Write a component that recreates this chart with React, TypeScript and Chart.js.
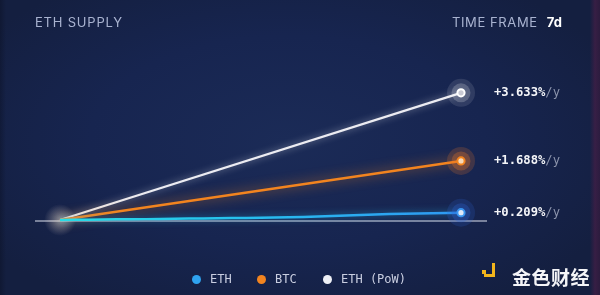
import React, { useEffect, useRef } from "react";
import { Chart, registerables } from "chart.js";

Chart.register(...registerables);

// Supply change, annualised %, sampled over the 7 day window
const ethDays = [0, 0.5, 1, 1.5, 2, 2.5, 3, 3.5, 4, 4.5, 5, 5.5, 6, 6.5, 7];
const ethValues = [0, 0.01, 0.02, 0.025, 0.035, 0.045, 0.055, 0.065, 0.08, 0.1, 0.13, 0.16, 0.18, 0.19, 0.209];
const btcDays = [0, 7];
const btcValues = [0, 1.688];
const powDays = [0, 7];
const powValues = [0, 3.633];

const seriesNames = ["ETH", "BTC", "ETH (PoW)"];
const endLabels = ["+0.209%", "+1.688%", "+3.633%"];

const lineColors = ["#2fa0f2", "#f2841f", "#ececf2"];
const glowColors = ["rgba(40,190,240,0.55)", "rgba(242,132,31,0.8)", "rgba(255,255,255,0.5)"];
const haloOuter = ["rgba(45,100,210,0.2)", "rgba(235,120,40,0.2)", "rgba(255,255,255,0.11)"];
const haloInner = ["rgba(45,100,210,0.3)", "rgba(235,120,40,0.3)", "rgba(255,255,255,0.2)"];
const dotFill = ["#dfe9f8", "#f7d9b8", "#c9cad4"];
const dotRing = ["#3a95f0", "#f2841f", "#ffffff"];
const legendDots = ["#2fa3f0", "#f2841f", "#eef0f6"];

const MONO = "'DejaVu Sans Mono', 'Liberation Mono', monospace";
const SANS = "Inter, Roboto, 'Noto Sans', sans-serif";

const toPoints = (xs: number[], ys: number[]) => xs.map((x, i) => ({ x, y: ys[i] }));

export default function App() {
  const canvasRef = useRef<HTMLCanvasElement | null>(null);

  useEffect(() => {
    document.body.style.margin = "0";
    const canvas = canvasRef.current;
    if (!canvas) return;

    const decorations = {
      id: "supplyDecor",
      beforeDatasetsDraw(chart: any) {
        const { ctx, scales } = chart;
        const y0 = scales.y.getPixelForValue(0);
        const x0 = scales.x.getPixelForValue(0);
        ctx.save();
        // baseline
        ctx.strokeStyle = "rgba(200,206,222,0.75)";
        ctx.lineWidth = 1.3;
        ctx.beginPath();
        ctx.moveTo(35, y0 + 1);
        ctx.lineTo(487, y0 + 1);
        ctx.stroke();
        // origin glow
        const g = ctx.createRadialGradient(x0, y0, 0, x0, y0, 16);
        g.addColorStop(0, "rgba(255,240,225,0.45)");
        g.addColorStop(1, "rgba(255,240,225,0)");
        ctx.fillStyle = g;
        ctx.beginPath();
        ctx.arc(x0, y0, 16, 0, Math.PI * 2);
        ctx.fill();
        ctx.restore();
      },
      beforeDatasetDraw(chart: any, args: any) {
        const ctx = chart.ctx;
        ctx.save();
        ctx.shadowColor = glowColors[args.index];
        ctx.shadowBlur = args.index === 1 ? 12 : 7;
      },
      afterDatasetDraw(chart: any) {
        chart.ctx.restore();
      },
      afterDatasetsDraw(chart: any) {
        const { ctx } = chart;
        chart.data.datasets.forEach((_: any, i: number) => {
          const meta = chart.getDatasetMeta(i);
          const pt = meta.data[meta.data.length - 1];
          const px = pt.x;
          const py = pt.y;
          ctx.save();
          ctx.fillStyle = haloOuter[i];
          ctx.beginPath();
          ctx.arc(px, py, 14, 0, Math.PI * 2);
          ctx.fill();
          ctx.fillStyle = haloInner[i];
          ctx.beginPath();
          ctx.arc(px, py, 9.5, 0, Math.PI * 2);
          ctx.fill();
          ctx.fillStyle = dotFill[i];
          ctx.strokeStyle = dotRing[i];
          ctx.lineWidth = 2;
          ctx.beginPath();
          ctx.arc(px, py, 3.6, 0, Math.PI * 2);
          ctx.fill();
          ctx.stroke();

          ctx.textBaseline = "middle";
          ctx.textAlign = "left";
          ctx.font = `bold 12.2px ${MONO}`;
          ctx.fillStyle = "#f4f5f8";
          const lx = px + 33;
          ctx.fillText(endLabels[i], lx, py);
          const w = ctx.measureText(endLabels[i]).width;
          ctx.font = `12.2px ${MONO}`;
          ctx.fillStyle = "#8c94ac";
          ctx.fillText("/y", lx + w, py);
          ctx.restore();
        });
      },
    };

    const chart = new Chart(canvas, {
      type: "line",
      data: {
        datasets: [
          {
            label: seriesNames[0],
            data: toPoints(ethDays, ethValues),
            borderColor: (c: any) => {
              const area = c.chart.chartArea;
              if (!area) return lineColors[0];
              const gr = c.chart.ctx.createLinearGradient(area.left, 0, area.right, 0);
              gr.addColorStop(0, "#28dce6");
              gr.addColorStop(0.45, "#27c0ee");
              gr.addColorStop(1, "#2f98f2");
              return gr;
            },
            borderWidth: 2.5,
            tension: 0.3,
          },
          {
            label: seriesNames[1],
            data: toPoints(btcDays, btcValues),
            borderColor: lineColors[1],
            borderWidth: 2.5,
          },
          {
            label: seriesNames[2],
            data: toPoints(powDays, powValues),
            borderColor: lineColors[2],
            borderWidth: 2.2,
          },
        ],
      },
      options: {
        animation: false,
        responsive: false,
        maintainAspectRatio: false,
        layout: { padding: { left: 60, right: 139, top: 80, bottom: 75 } },
        elements: { point: { radius: 0, hoverRadius: 0 } },
        clip: false as any,
        scales: {
          x: { type: "linear", min: 0, max: 7, display: false },
          y: { type: "linear", min: 0, max: 4, display: false },
        },
        plugins: {
          legend: { display: false },
          tooltip: { enabled: false },
        },
      },
      plugins: [decorations],
    });

    return () => chart.destroy();
  }, []);

  const legendX = [192, 257, 323];

  return (
    <div
      style={{
        position: "fixed",
        left: 0,
        top: 0,
        width: 600,
        height: 295,
        overflow: "hidden",
        background:
          "linear-gradient(90deg, rgba(8,12,28,0.35) 0px, rgba(0,0,0,0) 6px, rgba(0,0,0,0) 590px, rgba(70,30,70,0.7) 595px, rgba(60,25,60,0.6) 600px), radial-gradient(ellipse 60% 65% at 48% 48%, #1b2b57 0%, #172550 55%, #141f40 100%)",
      }}
    >
      <canvas ref={canvasRef} width={600} height={295} style={{ position: "absolute", left: 0, top: 0 }} />
      <div
        style={{
          position: "absolute",
          left: 35,
          top: 14,
          fontFamily: SANS,
          fontSize: 13,
          letterSpacing: 0.8,
          color: "#a9b3d0",
          lineHeight: "16px",
        }}
      >
        ETH SUPPLY
      </div>
      <div
        style={{
          position: "absolute",
          left: 452,
          top: 14,
          fontFamily: SANS,
          fontSize: 13,
          letterSpacing: 0.6,
          color: "#a9b3d0",
          lineHeight: "16px",
          whiteSpace: "nowrap",
        }}
      >
        TIME FRAME
        <span style={{ color: "#ffffff", fontWeight: 700, marginLeft: 9, letterSpacing: 0.3 }}>7d</span>
      </div>
      {seriesNames.map((name, i) => (
        <div
          key={name}
          style={{
            position: "absolute",
            left: legendX[i],
            top: 271,
            display: "flex",
            alignItems: "center",
            fontFamily: MONO,
            fontSize: 12,
            color: "#c9cee0",
            whiteSpace: "nowrap",
            lineHeight: "16px",
          }}
        >
          <span
            style={{
              display: "inline-block",
              width: 9,
              height: 9,
              borderRadius: 5,
              background: legendDots[i],
              marginRight: 9,
            }}
          />
          {name}
        </div>
      ))}
      <div style={{ position: "absolute", left: 482, top: 270, width: 4, height: 4, background: "#f2b51c" }} />
      <div
        style={{
          position: "absolute",
          left: 484,
          top: 263,
          width: 11,
          height: 14,
          borderRight: "3px solid #f2b51c",
          borderBottom: "3px solid #f2b51c",
          boxSizing: "border-box",
        }}
      />
      <div
        style={{
          position: "absolute",
          left: 512,
          top: 263,
          fontFamily: "'Noto Sans CJK SC', sans-serif",
          fontSize: 19,
          fontWeight: 700,
          color: "#f4f5f8",
          lineHeight: "28px",
          letterSpacing: 0.5,
        }}
      >
        金色财经
      </div>
    </div>
  );
}
